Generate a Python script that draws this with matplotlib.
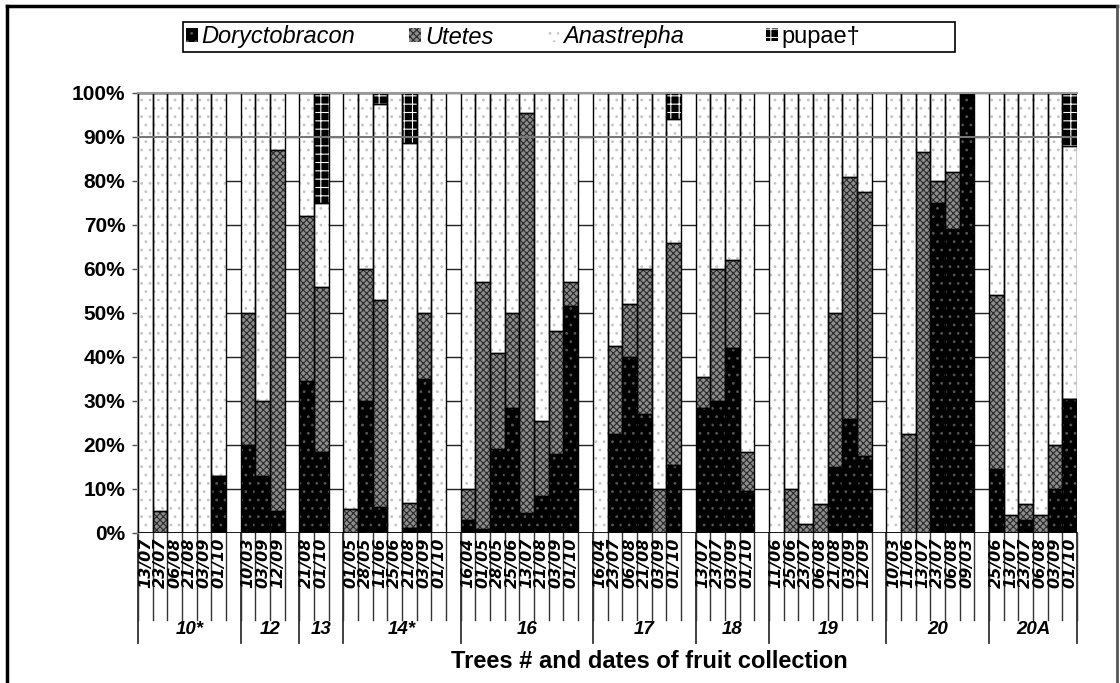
import numpy as np
import matplotlib
matplotlib.use("Agg")
from matplotlib import pyplot as plt
from matplotlib.patches import Patch, Rectangle
from matplotlib.lines import Line2D
from matplotlib.ticker import PercentFormatter, MultipleLocator

# trees and their collection dates
trees = ["10*", "12", "13", "14*", "16", "17", "18", "19", "20", "20A"]
dates = [
    ["13/07", "23/07", "06/08", "21/08", "03/09", "01/10"],
    ["10/03", "03/09", "12/09"],
    ["21/08", "01/10"],
    ["01/05", "28/05", "11/06", "25/06", "21/08", "03/09", "01/10"],
    ["16/04", "01/05", "28/05", "25/06", "13/07", "21/08", "03/09", "01/10"],
    ["16/04", "23/07", "06/08", "21/08", "03/09", "01/10"],
    ["13/07", "23/07", "03/09", "01/10"],
    ["11/06", "25/06", "23/07", "06/08", "21/08", "03/09", "12/09"],
    ["10/03", "11/06", "13/07", "23/07", "06/08", "09/03"],
    ["25/06", "13/07", "23/07", "06/08", "03/09", "01/10"],
]

# percentages, one value per date (same order as above)
doryctobracon = [0, 0, 0, 0, 0, 13,
                 20, 13, 5,
                 34.5, 18.5,
                 0, 30, 6, 0, 1.2, 35, 0,
                 3, 1, 19, 28.5, 4.5, 8.5, 18, 51.5,
                 0, 22.5, 40, 27, 0, 15.5,
                 28.5, 30, 42, 9.5,
                 0, 0, 0, 0, 15, 26, 17.5,
                 0, 0, 0, 75, 69, 100,
                 14.5, 0, 3, 0, 10, 30.5]
utetes = [0, 5, 0, 0, 0, 0,
          30, 17, 82,
          37.5, 37.5,
          5.5, 30, 47, 0, 5.7, 15, 0,
          7, 56, 22, 21.5, 91, 17, 28, 5.5,
          0, 20, 12, 33, 10, 50.5,
          7, 30, 20, 9,
          0, 10, 2, 6.5, 35, 55, 60,
          0, 22.5, 86.5, 5, 13, 0,
          39.5, 4, 3.5, 4, 10, 0]
anastrepha = [100, 95, 100, 100, 100, 87,
              50, 70, 13,
              28, 19,
              94.5, 40, 44.5, 100, 81.7, 50, 100,
              90, 43, 59, 50, 4.5, 74.5, 54, 43,
              100, 57.5, 48, 40, 90, 28,
              64.5, 40, 38, 81.5,
              100, 90, 98, 93.5, 50, 19, 22.5,
              100, 77.5, 13.5, 20, 18, 0,
              46, 96, 93.5, 96, 80, 57.5]
pupae = [0, 0, 0, 0, 0, 0,
         0, 0, 0,
         0, 25,
         0, 0, 2.5, 0, 11.4, 0, 0,
         0, 0, 0, 0, 0, 0, 0, 0,
         0, 0, 0, 0, 0, 6,
         0, 0, 0, 0,
         0, 0, 0, 0, 0, 0, 0,
         0, 0, 0, 0, 0, 0,
         0, 0, 0, 0, 0, 12]

# each tree gets its bars plus one empty slot after it (except the last)
pos = []
group_edges = [0]
slot = 0
for i, d in enumerate(dates):
    for _ in d:
        pos.append(slot + 0.5)
        slot += 1
    if i < len(dates) - 1:
        slot += 1
    group_edges.append(slot)
pos = np.array(pos)
nslots = slot

plt.rcParams["hatch.linewidth"] = 0.8

W, H = 1120, 683
fig = plt.figure(figsize=(W / 100, H / 100), dpi=100)
ax = fig.add_axes([138 / W, 1 - 533 / H, (1077 - 138) / W, 440 / H])

series = [
    ("Doryctobracon", doryctobracon, "black", "..", "#555555"),
    ("Utetes", utetes, "#8c8c8c", "xxxxx", "#2a2a2a"),
    ("Anastrepha", anastrepha, "white", "..", "#c4c4c4"),
    ("pupae\u2020", pupae, "black", "++", "white"),
]

bottom = np.zeros(len(pos))
for name, vals, fc, hatch, hc in series:
    vals = np.array(vals, dtype=float)
    ax.bar(pos, vals, width=1.0, bottom=bottom, color=fc, hatch=hatch,
           edgecolor=hc, linewidth=0, zorder=2)
    ax.bar(pos, vals, width=1.0, bottom=bottom, fill=False,
           edgecolor="black", linewidth=1.0, zorder=3)
    bottom += vals

ax.set_xlim(0, nslots)
ax.set_ylim(0, 100)
ax.yaxis.set_major_locator(MultipleLocator(10))
ax.yaxis.set_major_formatter(PercentFormatter(decimals=0))
ax.grid(axis="y", color="#222222", linewidth=1.0, zorder=0)
ax.set_axisbelow(True)
ax.axhline(90, color="#777777", linewidth=1.5, zorder=4)
ax.axhline(100, color="#999999", linewidth=1.5, zorder=4, clip_on=False)
ax.axhline(0, color="black", linewidth=1.2, zorder=4)

for s in ["top", "right", "bottom"]:
    ax.spines[s].set_visible(False)
ax.spines["left"].set_color("#888888")
ax.spines["left"].set_linewidth(1.5)
ax.set_xticks([])
ax.tick_params(axis="y", direction="out", length=4, width=1, color="#555555", pad=5)
for t in ax.get_yticklabels():
    t.set_fontfamily("Liberation Sans")
    t.set_fontweight("bold")
    t.set_fontsize(15)

# category axis below the plot
tr = ax.get_xaxis_transform()
px = 1 / 440
for b in range(nslots + 1):
    ax.plot([b, b], [0, -87 * px], color="#333333", lw=1.0, transform=tr, clip_on=False)
for b in group_edges:
    ax.plot([b, b], [0, -110 * px], color="#333333", lw=1.3, transform=tr, clip_on=False)

flat_dates = [d for grp in dates for d in grp]
for x, d in zip(pos, flat_dates):
    ax.text(x, -5 * px, d, rotation=90, ha="center", va="top", transform=tr,
            fontfamily="DejaVu Sans", fontweight="bold", fontstyle="oblique", fontsize=11.5)

for i, t in enumerate(trees):
    cx = (group_edges[i] + group_edges[i + 1]) / 2
    ax.text(cx, -96 * px, t, ha="center", va="center", transform=tr,
            fontfamily="Liberation Sans", fontweight="bold", fontstyle="italic", fontsize=13.5)

fig.text(649 / W, 1 - 662 / H, "Trees # and dates of fruit collection", ha="center", va="center",
         fontfamily="Liberation Sans", fontweight="bold", fontsize=17)

# legend: entries start near the left of a wider box
handles = [Patch(facecolor=fc, edgecolor=hc, hatch=h, linewidth=0) for _, _, fc, h, hc in series]
labels = [s[0] for s in series]
leg_kw = dict(frameon=False, prop={"family": "Liberation Sans", "size": 17},
              handlelength=0.5, handleheight=0.5, handletextpad=0.15,
              columnspacing=2.3, borderpad=0.0, borderaxespad=0.0)
leg = fig.legend(handles[:3], labels[:3], ncol=3, loc="center left",
                 bbox_to_anchor=(186 / W, 1 - 37 / H), **leg_kw)
for t in leg.get_texts():
    t.set_fontstyle("italic")
leg2 = fig.legend(handles[3:], labels[3:], ncol=1, loc="center left",
                  bbox_to_anchor=(766 / W, 1 - 37 / H), **leg_kw)
fig.add_artist(Rectangle((183 / W, 1 - 52 / H), (955 - 183) / W, 30 / H, fill=False,
                         edgecolor="black", linewidth=1.2, transform=fig.transFigure))

# outer frame of the chart
fig.add_artist(Line2D([7 / W, 7 / W], [0, 1 - 6 / H], color="black", lw=2.5, transform=fig.transFigure))
fig.add_artist(Line2D([7 / W, 1117 / W], [1 - 6 / H, 1 - 6 / H], color="black", lw=2.5, transform=fig.transFigure))
fig.add_artist(Line2D([1117 / W, 1117 / W], [0, 1 - 6 / H], color="#555555", lw=2, transform=fig.transFigure))

fig.savefig("out.png", dpi=100)
